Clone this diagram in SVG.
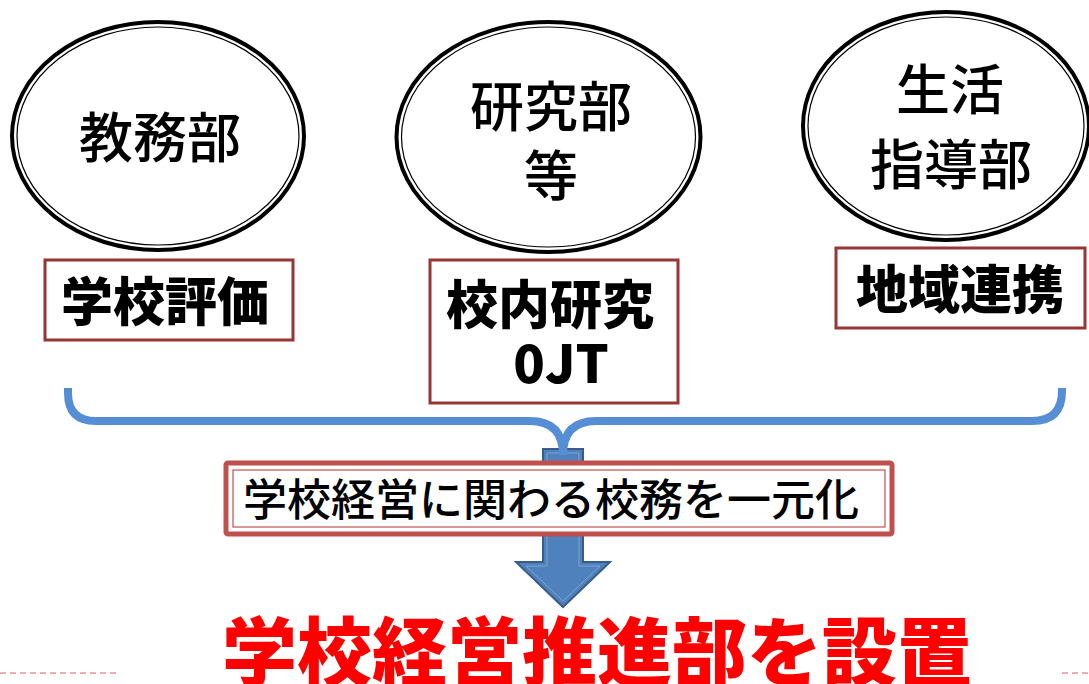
<svg xmlns="http://www.w3.org/2000/svg" width="1089" height="684" viewBox="0 0 1089 684">
<style>
.ell-o{fill:#fff;stroke:#000;stroke-width:4}
.ell-i{fill:none;stroke:#000;stroke-width:1.2}
.et{font-family:"Noto Sans CJK JP","Noto Sans",sans-serif;font-size:54px;font-weight:500;fill:#000;text-anchor:middle}
.bx{fill:#fff;stroke:#953735;stroke-width:3}
.bt{font-family:"Noto Sans CJK JP","Noto Sans",sans-serif;font-size:52px;font-weight:900;fill:#000;text-anchor:middle}
.brace{fill:none;stroke:#558ED5;stroke-width:8}
</style>
<rect width="1089" height="684" fill="#fff"/>
<g id="node-kyomu">
<ellipse class="ell-o" cx="158" cy="136" rx="146" ry="114"/>
<ellipse class="ell-i" cx="158" cy="136" rx="141" ry="109"/>
<text class="et" x="160" y="158">教務部</text>
</g>
<g id="node-kenkyu">
<ellipse class="ell-o" cx="548.5" cy="137" rx="152" ry="115"/>
<ellipse class="ell-i" cx="548.5" cy="137" rx="147" ry="110"/>
<text class="et" x="551" y="127">研究部</text>
<text class="et" x="551" y="196">等</text>
</g>
<g id="node-seikatsu">
<ellipse class="ell-o" cx="946" cy="126" rx="143" ry="114"/>
<ellipse class="ell-i" cx="946" cy="126" rx="138" ry="109"/>
<text class="et" x="950" y="110">生活</text>
<text class="et" x="951" y="185">指導部</text>
</g>
<g id="box-hyoka">
<rect class="bx" x="45" y="260" width="248" height="80"/>
<text class="bt" x="165" y="321">学校評価</text>
</g>
<g id="box-kenkyu">
<rect class="bx" x="430" y="260" width="248" height="143"/>
<text class="bt" x="550" y="324">校内研究</text>
<text class="bt" x="561" y="383">0JT</text>
</g>
<g id="box-chiiki">
<rect class="bx" x="836" y="248" width="249" height="80"/>
<text class="bt" x="960" y="309">地域連携</text>
</g>
<g id="connectors">
<g id="arrow-down">
<polygon points="543,449 583,449 583,562 610,562 563,607 516,562 543,562" fill="#4F81BD" stroke="#385D8A" stroke-width="2"/>
<polygon points="547,453 579,453 579,566 600,566 563,601 526,566 547,566" fill="none" stroke="#7FA3D3" stroke-width="1"/>
</g>
<path id="brace" class="brace" d="M68,388 L68,393 Q68,421 96,421 L530,421 Q563,421 563,455 Q563,421 596,421 L1032,421 Q1062,421 1062,391 L1062,388"/>
</g>
<g id="box-ichigenka">
<rect x="226" y="463" width="666" height="71" fill="#fff" stroke="#C0504D" stroke-width="5" rx="2"/>
<rect x="233" y="470" width="652" height="57" fill="none" stroke="#C0504D" stroke-width="1.2"/>
<text x="551" y="516" font-family="Noto Sans CJK JP,Noto Sans,sans-serif" font-size="44" font-weight="500" text-anchor="middle" fill="#000">学校経営に関わる校務を一元化</text>
</g>
<g id="title">
<text x="597" y="680" font-family="Noto Sans CJK JP,Noto Sans,sans-serif" font-size="75" font-weight="900" text-anchor="middle" fill="#FF0000">学校経営推進部を設置</text>
</g>
<line x1="0" y1="673" x2="120" y2="673" stroke="#E06060" stroke-width="1.2" stroke-dasharray="6,4"/>
<line x1="1062" y1="673" x2="1089" y2="673" stroke="#E06060" stroke-width="1.2" stroke-dasharray="6,4"/>
</svg>
